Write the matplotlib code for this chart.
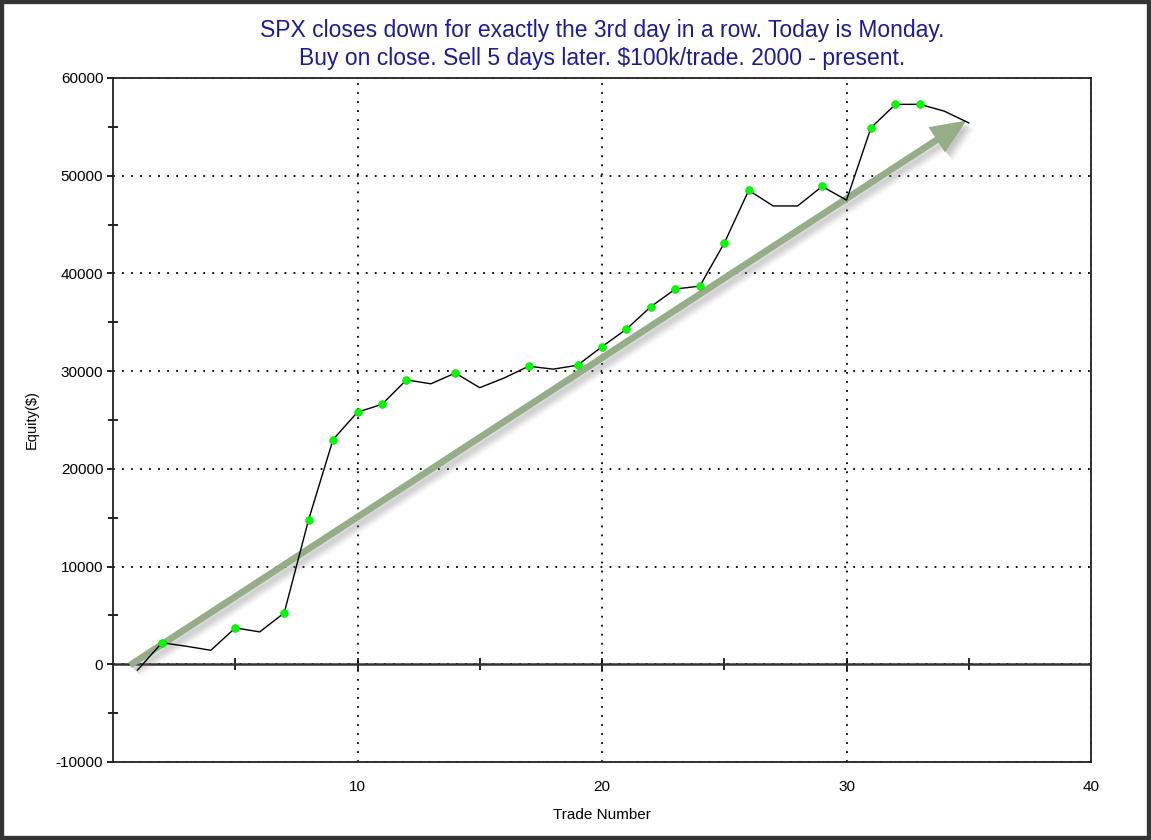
import numpy as np
import matplotlib
matplotlib.use('Agg')
import matplotlib.pyplot as plt
from matplotlib.patches import Rectangle, FancyArrowPatch
from matplotlib.ticker import MultipleLocator
import matplotlib.patheffects as pe

plt.rcParams['font.family'] = ['Liberation Sans', 'DejaVu Sans']
plt.rcParams['axes.unicode_minus'] = False

# equity curve
trades = list(range(1, 36))
equity = [-600, 2200, 1840, 1430, 3720, 3310, 5250, 14800, 23000, 25800,
          26600, 29100, 28700, 29800, 28300, 29300, 30500, 30200, 30600, 32500,
          34300, 36600, 38400, 38700, 43100, 48500, 46900, 46900, 48900, 47500,
          54900, 57300, 57300, 56600, 55400]
# trades marked with a green dot (new equity highs)
high_trades = [2, 5, 7, 8, 9, 10, 11, 12, 14, 17, 19, 20, 21, 22, 23, 24, 25,
               26, 29, 31, 32, 33]
# trend arrow drawn over the chart
arrow_start = (0.6, -250)
arrow_end = (35.0, 55800)

title = ("SPX closes down for exactly the 3rd day in a row. Today is Monday.\n"
         "Buy on close. Sell 5 days later. $100k/trade. 2000 - present.")

fig = plt.figure(figsize=(11.51, 8.40), dpi=100)
ax = fig.add_axes([0.0982, 0.0929, 0.8497, 0.8143])
xmin, xmax, ymin, ymax = 0, 40, -10000, 60000
ax.set_xlim(xmin, xmax)
ax.set_ylim(ymin, ymax)

# dotted grid
ax.xaxis.set_major_locator(MultipleLocator(10))
ax.yaxis.set_major_locator(MultipleLocator(10000))
ax.yaxis.set_minor_locator(MultipleLocator(5000))
ax.grid(True, which='major', color='black', linestyle=(0, (1, 4)), linewidth=1.3)
ax.set_axisbelow(True)

for s in ax.spines.values():
    s.set_color('#222222')
    s.set_linewidth(1.3)

ax.tick_params(axis='x', which='both', length=0, pad=13, labelsize=11)
ax.tick_params(axis='y', which='major', direction='out', length=4, width=1.2,
               pad=3, labelsize=11)
ax.tick_params(axis='y', which='minor', direction='inout', length=7, width=1.2)
ax.set_xticks([10, 20, 30, 40])

# zero line with its own ticks
ax.axhline(0, color='#333333', linewidth=1.8, zorder=2)
sec = ax.secondary_xaxis((0 - ymin) / (ymax - ymin))
sec.set_xticks(np.arange(5, 40, 5))
sec.tick_params(direction='inout', length=8, width=1.2, labelbottom=False)
sec.spines['bottom'].set_visible(False)

# arrow with soft shadow
shadow = [pe.SimplePatchShadow(offset=(s, -s), shadow_rgbFace='#777777', alpha=a)
          for s, a in [(6, 0.06), (5, 0.08), (4, 0.1), (3, 0.12), (2, 0.12)]]
arr = FancyArrowPatch(arrow_start, arrow_end,
                      arrowstyle='simple,head_length=1.7,head_width=1.45,tail_width=0.32',
                      mutation_scale=15, color='#95ae88', linewidth=0, zorder=3,
                      path_effects=shadow + [pe.Normal()])
ax.add_patch(arr)

ax.plot(trades, equity, color='black', linewidth=1.0, zorder=4)
hx = [t for t in high_trades]
hy = [equity[t - 1] for t in high_trades]
ax.plot(hx, hy, linestyle='none', marker='o', markersize=5.5,
        markerfacecolor='#00ff00', markeredgecolor='#00e000', markeredgewidth=0.5, zorder=5)

ax.set_title(title, color='#1c1c9a', fontsize=16.5, pad=9, linespacing=1.3)
ax.set_xlabel('Trade Number', fontsize=11, labelpad=10)
ax.set_ylabel('Equity($)', fontsize=10.5, labelpad=12)

# outer dark frame
fig.patches.append(Rectangle((0, 0), 1, 1, transform=fig.transFigure, fill=False,
                             edgecolor='#333333', linewidth=6))

fig.savefig('out.png', dpi=100)
